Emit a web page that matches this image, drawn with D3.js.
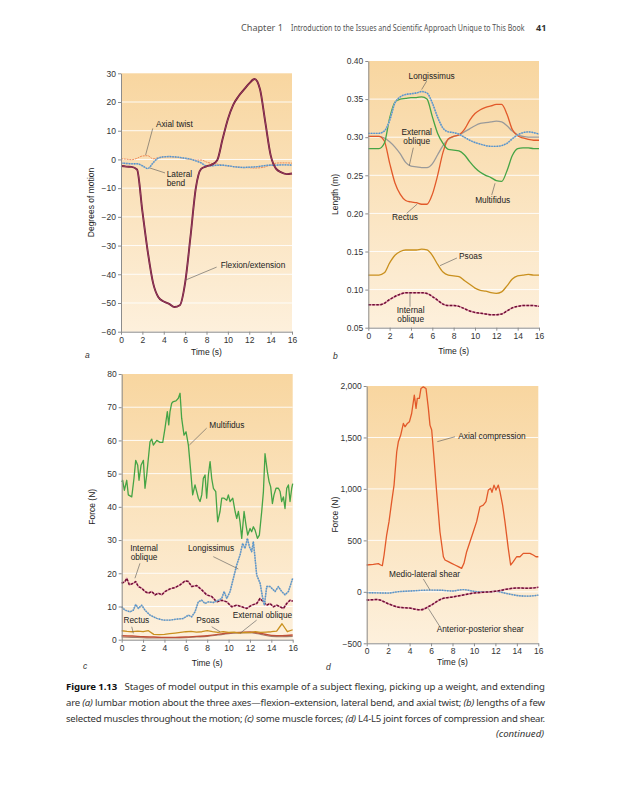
<!DOCTYPE html>
<html>
<head>
<meta charset="utf-8">
<script src="https://cdn.jsdelivr.net/npm/d3@7"></script>
<style>
  body { margin: 0; background: #fff; }
  svg { display: block; font-family: "Liberation Sans", Arial, sans-serif; }
  .page-text { font-family: "Noto Sans", "Open Sans", sans-serif; }
</style>
</head>
<body>
<svg id="page" width="626" height="810"></svg>
<script>
// sample times (s)
const halfSec = d3.range(0, 16.5, 0.5);
const oneSec = d3.range(0, 17, 1);
const timeTicks = [0, 2, 4, 6, 8, 10, 12, 14, 16];

// (a) lumbar motion, degrees (halfSec)
const flexExt = [-2.3, -2.5, -2.6, -3.5, -18, -32, -43, -48, -49.5, -50.3, -51.4, -50.8, -43, -27, -10, -3.3,
  -2.4, -1.8, -0.3, 7, 14, 19, 22, 24.3, 26.5, 28, 24.5, 13, 1.5, -3.2, -4.5, -5.1, -4.9];
const axialTwist = [0.2, 0.1, -0.1, 0.4, 1.2, 1.3, 0.2, 0.6, 0.9, 0.9, 0.8, 0.6, 0.3, 0, -0.2, -0.2,
  -0.9, -1.4, -1.6, -2.0, -2.3, -2.5, -2.7, -2.8, -2.9, -3.0, -2.9, -2.6, -1.8, -1.3, -1.2, -1.2, -1.3];
const lateralBend = [-1.3, -1.4, -1.5, -1.5, -2.2, -3.2, -1.2, 0.5, 0.9, 1.0, 0.9, 0.7, 0.4, 0.1, -0.5, -1.2,
  -2.3, -2.2, -2.0, -2.0, -2.2, -2.5, -2.7, -2.8, -2.7, -2.6, -2.4, -2.1, -2.0, -2.0, -1.9, -1.9, -2.0];
const ticksA = [-60, -50, -40, -30, -20, -10, 0, 10, 20, 30];

// (b) muscle lengths, m (halfSec)
const longissimusLen = [0.305, 0.305, 0.305, 0.308, 0.322, 0.345, 0.353, 0.356, 0.357, 0.358, 0.360, 0.358, 0.345, 0.326, 0.312, 0.307,
  0.306, 0.304, 0.300, 0.296, 0.293, 0.291, 0.289, 0.288, 0.288, 0.289, 0.292, 0.298, 0.303, 0.306, 0.307, 0.306, 0.304];
const multifidusLen = [0.285, 0.285, 0.285, 0.292, 0.325, 0.346, 0.350, 0.351, 0.352, 0.352, 0.353, 0.350, 0.327, 0.305, 0.292, 0.284,
  0.283, 0.282, 0.277, 0.268, 0.260, 0.254, 0.250, 0.247, 0.243, 0.242, 0.256, 0.276, 0.285, 0.286, 0.286, 0.285, 0.285];
const rectusLen = [0.301, 0.301, 0.301, 0.295, 0.266, 0.240, 0.225, 0.217, 0.215, 0.214, 0.212, 0.212, 0.225, 0.250, 0.280, 0.298,
  0.301, 0.303, 0.310, 0.322, 0.331, 0.336, 0.339, 0.341, 0.343, 0.343, 0.330, 0.310, 0.302, 0.299, 0.297, 0.296, 0.296];
const extObliqueLen = [0.301, 0.301, 0.301, 0.299, 0.294, 0.287, 0.278, 0.267, 0.262, 0.261, 0.260, 0.260, 0.265, 0.277, 0.289, 0.297,
  0.301, 0.303, 0.307, 0.311, 0.315, 0.318, 0.319, 0.320, 0.321, 0.320, 0.315, 0.308, 0.303, 0.301, 0.300, 0.300, 0.300];
const psoasLen = [0.119, 0.119, 0.119, 0.122, 0.135, 0.145, 0.150, 0.152, 0.152, 0.152, 0.153, 0.152, 0.145, 0.133, 0.123, 0.119,
  0.118, 0.117, 0.112, 0.107, 0.102, 0.099, 0.098, 0.096, 0.095, 0.097, 0.105, 0.114, 0.118, 0.119, 0.120, 0.119, 0.119];
const intObliqueLen = [0.080, 0.080, 0.080, 0.082, 0.087, 0.091, 0.094, 0.096, 0.096, 0.096, 0.096, 0.095, 0.091, 0.086, 0.081, 0.079,
  0.079, 0.078, 0.075, 0.072, 0.070, 0.069, 0.068, 0.067, 0.067, 0.068, 0.072, 0.076, 0.078, 0.079, 0.079, 0.079, 0.078];
const ticksB = [0.05, 0.10, 0.15, 0.20, 0.25, 0.30, 0.35, 0.40];

// (c) muscle forces, N
const multifidusT = [0, 0.09, 0.25, 0.47, 0.62, 0.94, 1.15, 1.31, 1.50, 1.62, 1.81, 2.03, 2.18, 2.34, 2.65, 2.81, 2.96, 3.28, 3.59, 3.84,
  4.05, 4.27, 4.40, 4.52, 4.68, 4.83, 5.08, 5.30, 5.46, 5.61, 5.83, 6.02, 6.24, 6.46, 6.64, 6.86, 7.02, 7.17, 7.33, 7.49,
  7.64, 7.80, 7.95, 8.11, 8.27, 8.42, 8.58, 8.80, 8.98, 9.20, 9.36, 9.58, 9.83, 9.98, 10.14, 10.39, 10.61, 10.76, 10.92, 11.07,
  11.23, 11.45, 11.63, 11.79, 12.01, 12.16, 12.32, 12.48, 12.70, 12.88, 13.10, 13.26, 13.41, 13.63, 13.79, 13.94, 14.10, 14.25, 14.44, 14.66,
  14.82, 14.97, 15.13, 15.28, 15.44, 15.60, 15.75, 15.91, 16.0];
const multifidusF = [47.5, 48, 45, 48, 43.6, 43, 48.6, 54, 52.5, 48, 52.5, 54, 45.6, 49.6, 59.6, 60.4, 58.6, 60, 59.4, 59.4,
  63.6, 68.7, 64.7, 68.7, 71.2, 71.7, 71.9, 72.7, 74.2, 66.7, 61.6, 62.6, 58.6, 50.6, 43.6, 46.6, 44.6, 42.6, 41.6, 43.6,
  48.6, 49.6, 42.6, 49.6, 53.6, 48.6, 45.6, 44.6, 35.5, 38.6, 42.6, 42.6, 42, 43.6, 41.6, 42.6, 38.6, 36.5, 38.6, 35.5,
  30.5, 38.6, 34.5, 31.5, 33.5, 32.5, 34, 33, 30.5, 31.5, 38.6, 44.6, 56, 50.6, 47.6, 46, 41, 43.6, 45.6, 45.6,
  44.6, 41.6, 43, 39.5, 45.6, 46.6, 41.6, 45.6, 47];
const longissimusT = [0, 0.31, 0.78, 1.09, 1.31, 1.56, 1.87, 2.18, 2.65, 3.28, 3.90, 4.52, 5.15, 5.77, 6.24, 6.55, 6.86, 7.17, 7.49, 7.80,
  8.11, 8.58, 9.05, 9.36, 9.58, 9.83, 10.14, 10.45, 10.76, 11.07, 11.32, 11.54, 11.76, 11.95, 12.16, 12.32, 12.48, 12.63, 12.95, 13.20,
  13.35, 13.57, 13.88, 14.04, 14.35, 14.66, 14.97, 15.28, 15.60, 16.0];
const longissimusF = [9.9, 8.9, 8.4, 8.9, 10.6, 9.4, 10.4, 8.9, 7.4, 6.4, 5.9, 5.9, 6.2, 6.4, 7.4, 6.9, 8.4, 11.4, 11.9, 10.9,
  11.4, 11.2, 11.9, 12.4, 14.5, 12.4, 14.5, 18.5, 22.5, 25.5, 29, 27.5, 30.5, 28, 26.5, 29.5, 24.5, 19.5, 17, 12.4,
  10.4, 16, 16, 15.5, 14.5, 16, 14.5, 13.5, 14.5, 18.5];
const intObliqueT = [0, 0.31, 0.47, 0.72, 1.09, 1.31, 1.56, 1.87, 2.18, 2.50, 2.81, 3.12, 3.43, 3.74, 4.05, 4.52, 4.99, 5.46, 5.93, 6.24,
  6.55, 7.02, 7.49, 7.95, 8.42, 8.89, 9.36, 9.83, 10.29, 10.76, 11.23, 11.70, 12.16, 12.63, 12.94, 13.26, 13.57, 13.88, 14.19, 14.50,
  14.82, 15.13, 15.44, 15.75, 16];
const intObliqueF = [17, 17.5, 18.5, 16.5, 17, 17.5, 16, 15.5, 14.5, 14, 14.5, 13.5, 14, 13.5, 14.5, 15.3, 15.7, 16.5, 17.7, 17.5,
  16, 16.3, 15, 13.5, 13, 11.4, 11.9, 11.4, 9.9, 10.4, 9.9, 9.4, 10.4, 10.9, 12.4, 11.4, 10.4, 10.9, 9.9, 10.4,
  9.9, 9.4, 10.9, 11.9, 11.6];
const psoasF = [2.7, 2.5, 2.4, 2.6, 2.4, 2.7, 1.6, 1.5, 1.6, 1.8, 2.0, 2.2, 2.4, 2.5, 2.3, 2.4,
  2.7, 2.4, 2.2, 2.4, 2.2, 2.3, 2.0, 2.2, 2.1, 2.4, 2.2, 2.3, 2.4, 2.6, 4.8, 2.4, 3.0];
const rectusF = [1.2, 1.1, 0.9, 0.8, 0.7, 0.7, 0.8, 1.0, 1.2, 1.6, 2.0, 2.2, 2.3, 1.9, 1.3, 1.2, 1.4];
const extObliqueF = [0.8, 0.7, 0.6, 0.5, 0.5, 0.5, 0.6, 0.8, 1.0, 1.4, 1.8, 2.0, 2.1, 1.6, 1.0, 0.9, 1.0];
const ticksC = [0, 10, 20, 30, 40, 50, 60, 70, 80];

// (d) L4-L5 joint forces, N
const compressionT = [0, 0.62, 1.09, 1.30, 1.46, 1.62, 1.86, 2.08, 2.33, 2.55, 2.80, 2.95, 3.17, 3.42, 3.57, 3.79, 3.98, 4.19, 4.44, 4.60,
  4.72, 4.91, 5.06, 5.28, 5.53, 5.75, 5.90, 6.06, 6.28, 6.52, 6.83, 7.15, 7.30, 7.61, 7.92, 8.23, 8.54, 8.85, 9.07, 9.32,
  9.63, 9.94, 10.25, 10.56, 10.87, 11.12, 11.34, 11.56, 11.68, 11.87, 12.05, 12.27, 12.43, 12.67, 12.89, 13.20, 13.42, 13.67, 13.98, 14.29,
  14.60, 14.91, 15.22, 15.53, 15.78, 16.0];
const compressionF = [261, 267, 274, 261, 254, 358, 552, 682, 876, 1037, 1361, 1458, 1523, 1636, 1604, 1636, 1652, 1733, 1911, 1782,
  1879, 1879, 1976, 1992, 1976, 1782, 1620, 1572, 1296, 972, 584, 341, 309, 293, 277, 261, 245, 228, 277, 390,
  487, 584, 682, 827, 843, 876, 989, 1005, 966, 1037, 989, 1037, 972, 843, 682, 423, 261, 293, 341, 341,
  374, 374, 374, 358, 341, 341];
const medioLateralF = [-8, -10, -12, 2, 8, 14, 17, 15, 8, 22, 5, -2, 5, -15, -35, -42, -32];
const antPostF = [-80, -75, -115, -150, -158, -175, -130, -68, -50, -30, -12, -3, 5, 25, 38, 35, 44];
const ticksD = [-500, 0, 500, 1000, 1500, 2000];

// line looks
const look = {
  flexion: [{ c: "#6a0f30", w: 1.9 }, { c: "#c07090", w: 0.5 }],
  orange: [{ c: "#ef8a55", w: 1, dash: "2,0.8" }],
  blueDot: [{ c: "#aab6c0", w: 1.4 }, { c: "#4f94cf", w: 1.4, dash: "1.3,1.3" }],
  maroonDash: [{ c: "#d98aa5", w: 1.5 }, { c: "#6e0f33", w: 1.5, dash: "2.5,1.5" }],
  green: [{ c: "#45a445", w: 1.3 }],
  red: [{ c: "#e2592a", w: 1.3 }],
  gray: [{ c: "#9a9a9a", w: 1.3 }],
  gold: [{ c: "#c9901e", w: 1.3 }],
  rectusC: [{ c: "#c05038", w: 1.4 }],
  extObC: [{ c: "#a08070", w: 1.1 }]
};

const svg = d3.select("#page");
const defs = svg.append("defs");
const grad = defs.append("linearGradient").attr("id", "plotBg")
  .attr("x1", 0).attr("y1", 0).attr("x2", 0).attr("y2", 1);
grad.append("stop").attr("offset", "0%").attr("stop-color", "#f8d6a0");
grad.append("stop").attr("offset", "100%").attr("stop-color", "#fdf0dc");

function drawPanel(p) {
  const x = d3.scaleLinear().domain([0, 16]).range([p.left, p.right]);
  const y = d3.scaleLinear().domain(p.yDomain).range([p.bottom, p.top]);
  const g = svg.append("g");

  g.append("rect")
    .attr("x", p.left).attr("y", p.top)
    .attr("width", p.right - p.left).attr("height", p.bottom - p.top)
    .attr("fill", "url(#plotBg)");

  g.selectAll("line.grid")
    .data(p.yTicks.slice(1, -1))
    .enter().append("line")
    .attr("class", "grid")
    .attr("x1", p.left).attr("x2", p.right)
    .attr("y1", d => y(d)).attr("y2", d => y(d))
    .attr("stroke", "#fff").attr("stroke-width", 1).attr("opacity", 0.9);

  p.series.forEach(s => {
    const line = d3.line()
      .x((d, i) => x(s.t[i]))
      .y(d => y(d))
      .curve(s.smooth ? d3.curveMonotoneX : d3.curveLinear);
    s.style.forEach(st => {
      g.append("path")
        .attr("d", line(s.v))
        .attr("fill", "none")
        .attr("stroke", st.c)
        .attr("stroke-width", st.w)
        .attr("stroke-dasharray", st.dash || null)
        .attr("stroke-linejoin", "round");
    });
  });

  p.notes.forEach(n => {
    g.append("line")
      .attr("x1", x(n.lead[0][0])).attr("y1", y(n.lead[0][1]))
      .attr("x2", x(n.lead[1][0])).attr("y2", y(n.lead[1][1]))
      .attr("stroke", "#555").attr("stroke-width", 0.6);
    const tx = g.append("text")
      .attr("x", x(n.at[0])).attr("y", y(n.at[1]))
      .attr("text-anchor", n.anchor || "start")
      .attr("font-size", 8.3).attr("fill", "#222");
    n.text.forEach((ln, i) => tx.append("tspan")
      .attr("x", x(n.at[0])).attr("dy", i ? 9 : 0).text(ln));
  });

  const ax = g.append("g")
    .attr("transform", `translate(${p.left},0)`)
    .call(d3.axisLeft(y).tickValues(p.yTicks).tickFormat(p.fmt).tickSize(3).tickSizeOuter(0).tickPadding(2));
  const bx = g.append("g")
    .attr("transform", `translate(0,${p.bottom})`)
    .call(d3.axisBottom(x).tickValues(timeTicks).tickFormat(d3.format("d")).tickSize(3).tickSizeOuter(0).tickPadding(2));
  [ax, bx].forEach(a => {
    a.attr("font-family", "'Liberation Sans', Arial, sans-serif").attr("font-size", 8.5);
    a.select(".domain").attr("stroke", "#8c8c8c");
    a.selectAll(".tick line").attr("stroke", "#8c8c8c");
    a.selectAll(".tick text").attr("fill", "#333");
  });

  g.append("text")
    .attr("transform", `translate(${p.left - p.yTitleOff},${(p.top + p.bottom) / 2}) rotate(-90)`)
    .attr("text-anchor", "middle").attr("dy", "0.35em")
    .attr("font-size", 8.5).attr("fill", "#222")
    .text(p.yTitle);
  g.append("text")
    .attr("x", (p.left + p.right) / 2).attr("y", p.bottom + p.xTitleOff)
    .attr("text-anchor", "middle").attr("dy", "0.35em")
    .attr("font-size", 8.5).attr("fill", "#222")
    .text("Time (s)");
  g.append("text")
    .attr("x", p.letter[0]).attr("y", p.letter[1])
    .attr("font-size", 8.5).attr("font-style", "italic").attr("fill", "#333")
    .text(p.name);
}

drawPanel({
  name: "a", left: 121, right: 292, top: 73.3, bottom: 331.7,
  yDomain: [-60, 30], yTicks: ticksA, fmt: d3.format("d"),
  yTitle: "Degrees of motion", yTitleOff: 29.5, xTitleOff: 20.5, letter: [85, 358],
  series: [
    { t: halfSec, v: axialTwist, style: look.orange, smooth: true },
    { t: halfSec, v: lateralBend, style: look.blueDot, smooth: true },
    { t: halfSec, v: flexExt, style: look.flexion, smooth: true }
  ],
  notes: [
    { text: ["Axial twist"], at: [3.27, 11.4], lead: [[2.97, 10.8], [2.3, 1.5]] },
    { text: ["Lateral", "bend"], at: [4.28, -6.1], lead: [[4.12, -4.7], [2.71, -3.0]] },
    { text: ["Flexion/extension"], at: [9.33, -37.8], lead: [[8.95, -37.5], [6.05, -42]] }
  ]
});

drawPanel({
  name: "b", left: 368.3, right: 539, top: 61, bottom: 327.7,
  yDomain: [0.05, 0.40], yTicks: ticksB, fmt: d3.format(".2f"),
  yTitle: "Length (m)", yTitleOff: 33, xTitleOff: 23, letter: [333, 359],
  series: [
    { t: halfSec, v: intObliqueLen, style: look.maroonDash, smooth: true },
    { t: halfSec, v: psoasLen, style: look.gold, smooth: true },
    { t: halfSec, v: extObliqueLen, style: look.gray, smooth: true },
    { t: halfSec, v: rectusLen, style: look.red, smooth: true },
    { t: halfSec, v: multifidusLen, style: look.green, smooth: true },
    { t: halfSec, v: longissimusLen, style: look.blueDot, smooth: true }
  ],
  notes: [
    { text: ["Longissimus"], at: [5.94, 0.3764], anchor: "middle", lead: [[5.47, 0.3735], [5.0, 0.3625]] },
    { text: ["External", "oblique"], at: [4.54, 0.3029], anchor: "middle", lead: [[4.22, 0.2862], [3.84, 0.2626]] },
    { text: ["Rectus"], at: [3.44, 0.1913], anchor: "middle", lead: [[3.6, 0.2001], [4.59, 0.2123]] },
    { text: ["Multifidus"], at: [11.66, 0.2136], anchor: "middle", lead: [[11.57, 0.2241], [11.88, 0.2395]] },
    { text: ["Psoas"], at: [9.58, 0.1402], anchor: "middle", lead: [[8.31, 0.1415], [6.72, 0.1314]] },
    { text: ["Internal", "oblique"], at: [3.97, 0.0693], anchor: "middle", lead: [[3.91, 0.0776], [3.91, 0.0962]] }
  ]
});

drawPanel({
  name: "c", left: 121.7, right: 292.7, top: 374, bottom: 639.7,
  yDomain: [0, 80], yTicks: ticksC, fmt: d3.format("d"),
  yTitle: "Force (N)", yTitleOff: 30, xTitleOff: 23.3, letter: [83, 669],
  series: [
    { t: oneSec, v: extObliqueF, style: look.extObC, smooth: true },
    { t: oneSec, v: rectusF, style: look.rectusC, smooth: true },
    { t: halfSec, v: psoasF, style: look.gold },
    { t: intObliqueT, v: intObliqueF, style: look.maroonDash },
    { t: longissimusT, v: longissimusF, style: look.blueDot },
    { t: multifidusT, v: multifidusF, style: look.green }
  ],
  notes: [
    { text: ["Multifidus"], at: [8.2, 63.65], lead: [[7.95, 63.7], [6.33, 58.6]] },
    { text: ["Internal", "oblique"], at: [2.09, 26.8], anchor: "middle", lead: [[1.71, 23], [1.24, 18.5]] },
    { text: ["Longissimus"], at: [8.36, 26.8], anchor: "middle", lead: [[8.57, 25], [10.91, 21.3]] },
    { text: ["Rectus"], at: [1.37, 5.1], anchor: "middle", lead: [[0.94, 3.9], [1.09, 1.9]] },
    { text: ["Psoas"], at: [8.06, 5.1], anchor: "middle", lead: [[8.42, 3.9], [9.2, 2.4]] },
    { text: ["External oblique"], at: [13.17, 6.6], anchor: "middle", lead: [[12.63, 5.9], [11.07, 1.9]] }
  ]
});

drawPanel({
  name: "d", left: 366.7, right: 538.3, top: 386, bottom: 643.3,
  yDomain: [-500, 2000], yTicks: ticksD, fmt: d3.format(","),
  yTitle: "Force (N)", yTitleOff: 32, xTitleOff: 18.7, letter: [326, 670],
  series: [
    { t: oneSec, v: medioLateralF, style: look.blueDot, smooth: true },
    { t: oneSec, v: antPostF, style: look.maroonDash, smooth: true },
    { t: compressionT, v: compressionF, style: look.red }
  ],
  notes: [
    { text: ["Axial compression"], at: [8.54, 1482], lead: [[8.23, 1507], [6.58, 1459]] },
    { text: ["Medio-lateral shear"], at: [2.08, 147], lead: [[5.28, 125], [5.9, 18]] },
    { text: ["Anterior-posterior shear"], at: [6.53, -393], lead: [[6.83, -339], [5.74, -160]] }
  ]
});

// running head: squeeze each piece horizontally to the width it has in the book
function fitText(parent, str, x, y, width) {
  const t = parent.append("text").attr("x", 0).attr("y", 0).text(str);
  const natural = t.node().getComputedTextLength();
  t.attr("transform", `translate(${x},${y}) scale(${width / natural},1)`);
  return t;
}
const head = svg.append("g").attr("class", "page-text").attr("fill", "#555").attr("font-size", 9);
fitText(head, "Chapter 1", 241, 31, 42);
fitText(head, "Introduction to the Issues and Scientific Approach Unique to This Book", 291, 31, 234);
head.append("text").attr("x", 536).attr("y", 31).attr("font-weight", "bold").attr("fill", "#333").text("41");

// caption
const cap = svg.append("g").attr("class", "page-text").attr("fill", "#333").attr("font-size", 9.6);
const l1 = cap.append("text").attr("x", 66).attr("y", 690).attr("textLength", 479).attr("lengthAdjust", "spacing");
l1.append("tspan").attr("font-weight", "bold").attr("fill", "#111").text("Figure 1.13");
l1.append("tspan").text("\u00a0\u00a0\u00a0Stages of model output in this example of a subject flexing, picking up a weight, and extending");
const l2 = cap.append("text").attr("x", 66).attr("y", 706).attr("textLength", 479).attr("lengthAdjust", "spacing");
l2.append("tspan").text("are ");
l2.append("tspan").attr("font-style", "italic").text("(a)");
l2.append("tspan").text(" lumbar motion about the three axes\u2014flexion\u2013extension, lateral bend, and axial twist; ");
l2.append("tspan").attr("font-style", "italic").text("(b)");
l2.append("tspan").text(" lengths of a few");
const l3 = cap.append("text").attr("x", 66).attr("y", 722).attr("textLength", 479).attr("lengthAdjust", "spacing");
l3.append("tspan").text("selected muscles throughout the motion; ");
l3.append("tspan").attr("font-style", "italic").text("(c)");
l3.append("tspan").text(" some muscle forces; ");
l3.append("tspan").attr("font-style", "italic").text("(d)");
l3.append("tspan").text(" L4-L5 joint forces of compression and shear.");
cap.append("text").attr("x", 544).attr("y", 737).attr("text-anchor", "end").attr("font-style", "italic").text("(continued)");
</script>
</body>
</html>
